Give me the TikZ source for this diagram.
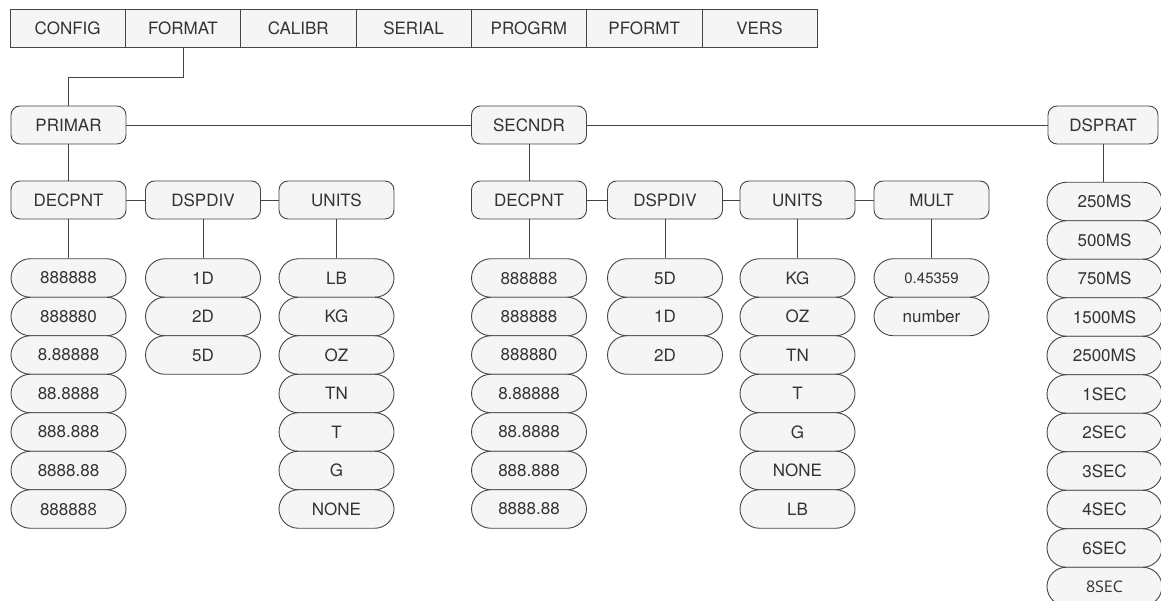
\documentclass[tikz,border=0pt]{standalone}
\usepackage{fontspec}
\setmainfont{TeX Gyre Heros}
\newfontfamily\altfont{Open Sans}
\usetikzlibrary{positioning}
\usetikzlibrary{shapes.misc}
\definecolor{boxfill}{HTML}{F5F5F5}
\definecolor{boxline}{HTML}{454545}
\definecolor{boxtext}{HTML}{333333}
\tikzstyle{menuS} = [draw=boxline, fill=boxfill, text=boxtext, minimum width=115.3pt, minimum height=38pt, inner sep=0pt, font=\fontsize{17}{20}\selectfont]
\tikzstyle{blockS} = [draw=boxline, fill=boxfill, text=boxtext, rounded corners=9pt, minimum width=115pt, minimum height=38pt, inner sep=0pt, line width=0.9pt, font=\fontsize{17}{20}\selectfont]
\tikzstyle{pillS} = [rounded rectangle, draw=boxline, fill=boxfill, text=boxtext, minimum width=115pt, minimum height=38.5pt, inner sep=0pt, line width=0.9pt, font=\fontsize{17}{20}\selectfont]
\tikzstyle{line} = [draw=boxline, line width=0.9pt]

\begin{document}
\begin{tikzpicture}[node distance=38.5pt, auto]
    \useasboundingbox (0,0) rectangle (1161pt,-601pt);
    % menu bar
    \node [menuS] (m1) at (67.65pt,-28pt) {CONFIG};
    \node [menuS, right of=m1, node distance=115.3pt] (m2) {FORMAT};
    \node [menuS, right of=m2, node distance=115.3pt] (m3) {CALIBR};
    \node [menuS, right of=m3, node distance=115.3pt] (m4) {SERIAL};
    \node [menuS, right of=m4, node distance=115.3pt] (m5) {PROGRM};
    \node [menuS, right of=m5, node distance=115.3pt] (m6) {PFORMT};
    \node [menuS, right of=m6, node distance=115.3pt] (m7) {VERS};

    \node [blockS] (t1) at (68.5pt,-125pt) {PRIMAR};
    \node [blockS, right of=t1, node distance=460.5pt] (t2) {SECNDR};
    \node [blockS, right of=t2, node distance=574pt, minimum width=110pt] (t3) {DSPRAT};

    \node [blockS, below of=t1, node distance=75pt] (u1) {DECPNT};
    \node [blockS, right of=u1, node distance=134.5pt] (u2) {DSPDIV};
    \node [blockS, right of=u2, node distance=133.5pt] (u3) {UNITS};
    \node [blockS, below of=t2, node distance=75pt] (u4) {DECPNT};
    \node [blockS, right of=u4, node distance=136pt] (u5) {DSPDIV};
    \node [blockS, right of=u5, node distance=132.5pt] (u6) {UNITS};
    \node [blockS, right of=u6, node distance=134pt] (u7) {MULT};

    % primary
    \node [pillS, below of=u1, node distance=78pt] (a1) {888888};
    \node [pillS, below of=a1] (a2) {888880};
    \node [pillS, below of=a2] (a3) {8.88888};
    \node [pillS, below of=a3] (a4) {88.8888};
    \node [pillS, below of=a4] (a5) {888.888};
    \node [pillS, below of=a5] (a6) {8888.88};
    \node [pillS, below of=a6] (a7) {88888{\altfont 8}};

    \node [pillS, below of=u2, node distance=78pt] (b1) {1D};
    \node [pillS, below of=b1] (b2) {2D};
    \node [pillS, below of=b2] (b3) {5D};

    \node [pillS, below of=u3, node distance=78pt] (c1) {LB};
    \node [pillS, below of=c1] (c2) {KG};
    \node [pillS, below of=c2] (c3) {OZ};
    \node [pillS, below of=c3] (c4) {TN};
    \node [pillS, below of=c4] (c5) {T};
    \node [pillS, below of=c5] (c6) {G};
    \node [pillS, below of=c6] (c7) {NONE};

    % secondary
    \node [pillS, below of=u4, node distance=78pt] (d1) {88888{\altfont 8}};
    \node [pillS, below of=d1] (d2) {888888};
    \node [pillS, below of=d2] (d3) {888880};
    \node [pillS, below of=d3] (d4) {8.88888};
    \node [pillS, below of=d4] (d5) {88.8888};
    \node [pillS, below of=d5] (d6) {888.888};
    \node [pillS, below of=d6] (d7) {8888.88};

    \node [pillS, below of=u5, node distance=78pt] (e1) {5D};
    \node [pillS, below of=e1] (e2) {1D};
    \node [pillS, below of=e2] (e3) {2D};

    \node [pillS, below of=u6, node distance=78pt] (f1) {KG};
    \node [pillS, below of=f1] (f2) {OZ};
    \node [pillS, below of=f2] (f3) {TN};
    \node [pillS, below of=f3] (f4) {T};
    \node [pillS, below of=f4] (f5) {G};
    \node [pillS, below of=f5] (f6) {NONE};
    \node [pillS, below of=f6] (f7) {LB};

    \node [pillS, below of=u7, node distance=78pt, font=\fontsize{15}{18}\selectfont] (g1) {0.45359};
    \node [pillS, below of=g1] (g2) {number};

    % display rate
    \node [pillS, below of=t3, node distance=76.5pt, xshift=1.5pt] (h1) {250MS};
    \node [pillS, below of=h1] (h2) {500MS};
    \node [pillS, below of=h2] (h3) {750MS};
    \node [pillS, below of=h3] (h4) {1500MS};
    \node [pillS, below of=h4] (h5) {2500MS};
    \node [pillS, below of=h5] (h6) {1SEC};
    \node [pillS, below of=h6] (h7) {2SEC};
    \node [pillS, below of=h7] (h8) {3SEC};
    \node [pillS, below of=h8] (h9) {4SEC};
    \node [pillS, below of=h9] (h10) {6SEC};
    \node [pillS, below of=h10, font=\altfont\fontsize{16}{19}\selectfont] (h11) {8SEC};

    \draw [line] (m2.south) -- ++(0,-30pt) -| (t1.north);
    \draw [line] (t1.east) to (t2.west);
    \draw [line] (t2.east) to (t3.west);
    \draw [line] (t1.south) to (u1.north);
    \draw [line] (t2.south) to (u4.north);
    \draw [line] (u1.east) to (u2.west);
    \draw [line] (u2.east) to (u3.west);
    \draw [line] (u4.east) to (u5.west);
    \draw [line] (u5.east) to (u6.west);
    \draw [line] (u6.east) to (u7.west);
    \draw [line] (u1.south) to (a1.north);
    \draw [line] (u2.south) to (b1.north);
    \draw [line] (u3.south) to (c1.north);
    \draw [line] (u4.south) to (d1.north);
    \draw [line] (u5.south) to (e1.north);
    \draw [line] (u6.south) to (f1.north);
    \draw [line] (u7.south) to (g1.north);
    \draw [line] (t3.south) to (h1.north -| t3.south);
  \end{tikzpicture}
\end{document}
